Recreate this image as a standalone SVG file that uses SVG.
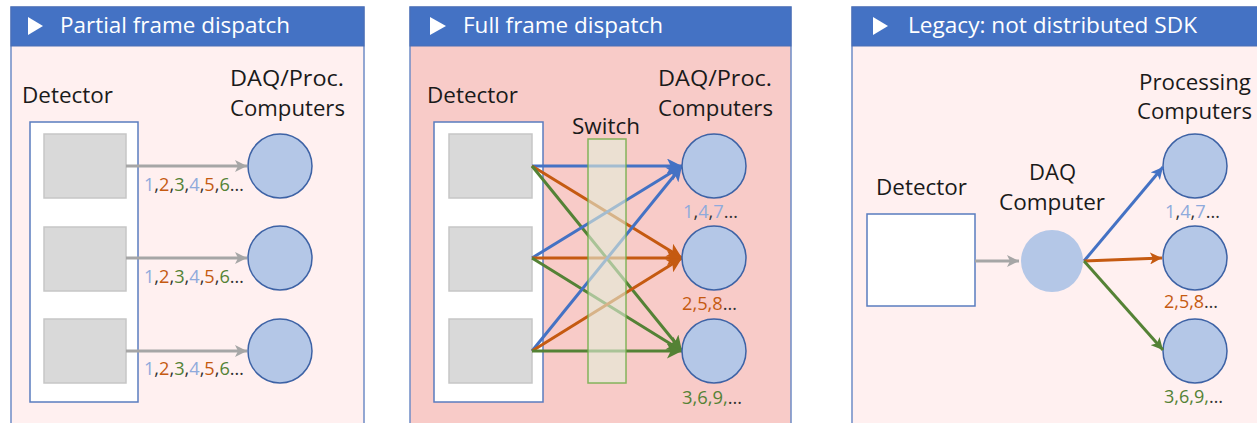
<svg xmlns="http://www.w3.org/2000/svg" width="1257" height="423" viewBox="0 0 1257 423">
<defs>
<style>
text{font-family:"Open Sans","Liberation Sans",sans-serif;}
.title{font-size:21px;fill:#ffffff;}
.lbl{font-size:21px;fill:#1a1a1a;}
.num{font-size:18px;}
.hdr{fill:#4472c4;stroke:#4a6fb5;stroke-width:1;}
.body1{fill:#fff0f0;stroke:#6f8cc6;stroke-width:1.5;}
.body2{fill:#f8cbc8;stroke:#6f8cc6;stroke-width:1.5;}
.det{fill:#ffffff;stroke:#5a7cbf;stroke-width:1.5;}
.sq{fill:#d9d9d9;stroke:#c6c6c6;stroke-width:1.5;}
.pc{fill:#b4c7e7;stroke:#3d62a5;stroke-width:1.5;}
.tri{fill:#ffffff;}
.lb{fill:#8faadc;}
.or{fill:#c55a11;}
.gr{fill:#548235;}
.dk{fill:#333333;}
.gray{stroke:#a6a6a6;stroke-width:3;fill:none;}
.blu{stroke:#4472c4;stroke-width:3;fill:none;}
.org{stroke:#c55a11;stroke-width:3;fill:none;}
.grn{stroke:#548235;stroke-width:3;fill:none;}
</style>
<marker id="mGray" markerUnits="userSpaceOnUse" markerWidth="12" markerHeight="12" refX="10" refY="5" orient="auto" viewBox="0 0 10 10"><path d="M0,0 L10,5 L0,10 L2.5,5 z" fill="#a6a6a6"/></marker>
<marker id="mBlue" markerUnits="userSpaceOnUse" markerWidth="15" markerHeight="15" refX="10" refY="5" orient="auto" viewBox="0 0 10 10"><path d="M0,0 L10,5 L0,10 L2.5,5 z" fill="#4472c4"/></marker>
<marker id="mOrg" markerUnits="userSpaceOnUse" markerWidth="15" markerHeight="15" refX="10" refY="5" orient="auto" viewBox="0 0 10 10"><path d="M0,0 L10,5 L0,10 L2.5,5 z" fill="#c55a11"/></marker>
<marker id="mGrn" markerUnits="userSpaceOnUse" markerWidth="15" markerHeight="15" refX="10" refY="5" orient="auto" viewBox="0 0 10 10"><path d="M0,0 L10,5 L0,10 L2.5,5 z" fill="#548235"/></marker>
<marker id="mBlueS" markerUnits="userSpaceOnUse" markerWidth="12" markerHeight="12" refX="10" refY="5" orient="auto" viewBox="0 0 10 10"><path d="M0,0 L10,5 L0,10 L2.5,5 z" fill="#4472c4"/></marker>
<marker id="mOrgS" markerUnits="userSpaceOnUse" markerWidth="12" markerHeight="12" refX="10" refY="5" orient="auto" viewBox="0 0 10 10"><path d="M0,0 L10,5 L0,10 L2.5,5 z" fill="#c55a11"/></marker>
<marker id="mGrnS" markerUnits="userSpaceOnUse" markerWidth="12" markerHeight="12" refX="10" refY="5" orient="auto" viewBox="0 0 10 10"><path d="M0,0 L10,5 L0,10 L2.5,5 z" fill="#548235"/></marker>
</defs>
<rect width="1257" height="423" fill="#ffffff"/>

<!-- Panel 1 -->
<g id="panel1">
<rect class="body1" x="11" y="7" width="353" height="430"/>
<rect class="hdr" x="11" y="7" width="353" height="39"/>
<path class="tri" d="M28,17 L43,26 L28,35 z"/>
<text class="title" x="60" y="33" textLength="230" lengthAdjust="spacingAndGlyphs">Partial frame dispatch</text>
<text class="lbl" x="22" y="103" textLength="91" lengthAdjust="spacingAndGlyphs">Detector</text>
<text class="lbl" x="230" y="86" textLength="114" lengthAdjust="spacingAndGlyphs">DAQ/Proc.</text>
<text class="lbl" x="230" y="116" textLength="115" lengthAdjust="spacingAndGlyphs">Computers</text>
</g>
<g id="p1-detector">
<rect class="det" x="30" y="122" width="108" height="280"/>
<rect class="sq" x="44" y="134" width="82" height="64"/>
<rect class="sq" x="44" y="227" width="82" height="64"/>
<rect class="sq" x="44" y="319" width="82" height="64"/>
</g>
<g id="p1-computers">
<circle class="pc" cx="280" cy="166" r="32"/>
<circle class="pc" cx="280" cy="258" r="32"/>
<circle class="pc" cx="280" cy="351" r="32"/>
</g>
<g id="p1-connectors">
<line class="gray" x1="126" y1="166" x2="247" y2="166" marker-end="url(#mGray)"/>
<line class="gray" x1="126" y1="258" x2="247" y2="258" marker-end="url(#mGray)"/>
<line class="gray" x1="126" y1="351" x2="247" y2="351" marker-end="url(#mGray)"/>
</g>
<g id="p1-labels" class="num">
<text x="144" y="191" textLength="100" lengthAdjust="spacingAndGlyphs"><tspan class="lb">1</tspan><tspan class="dk">,</tspan><tspan class="or">2</tspan><tspan class="dk">,</tspan><tspan class="gr">3</tspan><tspan class="dk">,</tspan><tspan class="lb">4</tspan><tspan class="dk">,</tspan><tspan class="or">5</tspan><tspan class="dk">,</tspan><tspan class="gr">6</tspan><tspan class="dk">…</tspan></text>
<text x="144" y="283" textLength="100" lengthAdjust="spacingAndGlyphs"><tspan class="lb">1</tspan><tspan class="dk">,</tspan><tspan class="or">2</tspan><tspan class="dk">,</tspan><tspan class="gr">3</tspan><tspan class="dk">,</tspan><tspan class="lb">4</tspan><tspan class="dk">,</tspan><tspan class="or">5</tspan><tspan class="dk">,</tspan><tspan class="gr">6</tspan><tspan class="dk">…</tspan></text>
<text x="144" y="375" textLength="100" lengthAdjust="spacingAndGlyphs"><tspan class="lb">1</tspan><tspan class="dk">,</tspan><tspan class="or">2</tspan><tspan class="dk">,</tspan><tspan class="gr">3</tspan><tspan class="dk">,</tspan><tspan class="lb">4</tspan><tspan class="dk">,</tspan><tspan class="or">5</tspan><tspan class="dk">,</tspan><tspan class="gr">6</tspan><tspan class="dk">…</tspan></text>
</g>

<!-- Panel 2 -->
<g id="panel2">
<rect class="body2" x="410" y="7" width="381" height="430"/>
<rect class="hdr" x="410" y="7" width="381" height="39"/>
<path class="tri" d="M430,17 L446,26 L430,35 z"/>
<text class="title" x="463" y="33" textLength="200" lengthAdjust="spacingAndGlyphs">Full frame dispatch</text>
<text class="lbl" x="427" y="103" textLength="91" lengthAdjust="spacingAndGlyphs">Detector</text>
<text class="lbl" x="658" y="86" textLength="114" lengthAdjust="spacingAndGlyphs">DAQ/Proc.</text>
<text class="lbl" x="658" y="116" textLength="115" lengthAdjust="spacingAndGlyphs">Computers</text>
<text class="lbl" x="572" y="134" textLength="68" lengthAdjust="spacingAndGlyphs">Switch</text>
</g>
<g id="p2-detector">
<rect class="det" x="434" y="122" width="109" height="280"/>
<rect class="sq" x="449" y="134" width="83" height="64"/>
<rect class="sq" x="449" y="227" width="83" height="64"/>
<rect class="sq" x="449" y="319" width="83" height="64"/>
</g>
<g id="p2-connectors">
<line class="blu" x1="532" y1="166" x2="682" y2="166" marker-end="url(#mBlue)"/>
<line class="org" x1="532" y1="166" x2="682" y2="258" marker-end="url(#mOrg)"/>
<line class="grn" x1="532" y1="166" x2="682" y2="351" marker-end="url(#mGrn)"/>
<line class="blu" x1="532" y1="258" x2="682" y2="166" marker-end="url(#mBlue)"/>
<line class="org" x1="532" y1="258" x2="682" y2="258" marker-end="url(#mOrg)"/>
<line class="grn" x1="532" y1="258" x2="682" y2="351" marker-end="url(#mGrn)"/>
<line class="blu" x1="532" y1="351" x2="682" y2="166" marker-end="url(#mBlue)"/>
<line class="org" x1="532" y1="351" x2="682" y2="258" marker-end="url(#mOrg)"/>
<line class="grn" x1="532" y1="351" x2="682" y2="351" marker-end="url(#mGrn)"/>
</g>
<g id="p2-switch">
<rect x="588" y="139" width="38" height="244" fill="#e2efd9" fill-opacity="0.6" stroke="#70ad47" stroke-opacity="0.85" stroke-width="1.5"/>
</g>
<g id="p2-computers">
<circle class="pc" cx="714" cy="166" r="32"/>
<circle class="pc" cx="714" cy="258" r="32"/>
<circle class="pc" cx="714" cy="351" r="32"/>
</g>
<g id="p2-labels" class="num">
<text x="683" y="218" textLength="55" lengthAdjust="spacingAndGlyphs"><tspan class="lb">1</tspan><tspan class="dk">,</tspan><tspan class="lb">4</tspan><tspan class="dk">,</tspan><tspan class="lb">7</tspan><tspan class="dk">…</tspan></text>
<text x="682" y="310" textLength="55" lengthAdjust="spacingAndGlyphs"><tspan class="or">2,5,8</tspan><tspan class="dk">…</tspan></text>
<text x="682" y="404" textLength="60" lengthAdjust="spacingAndGlyphs"><tspan class="gr">3,6,9,</tspan><tspan class="dk">…</tspan></text>
</g>

<!-- Panel 3 -->
<g id="panel3">
<rect class="body1" x="852" y="7" width="420" height="430"/>
<rect class="hdr" x="852" y="7" width="420" height="39"/>
<path class="tri" d="M873,17 L888,26 L873,35 z"/>
<text class="title" x="908" y="33" textLength="289" lengthAdjust="spacingAndGlyphs">Legacy: not distributed SDK</text>
<text class="lbl" x="1139" y="90" textLength="112" lengthAdjust="spacingAndGlyphs">Processing</text>
<text class="lbl" x="1137" y="119" textLength="115" lengthAdjust="spacingAndGlyphs">Computers</text>
</g>
<g id="p3-detector">
<text class="lbl" x="876" y="195" textLength="91" lengthAdjust="spacingAndGlyphs">Detector</text>
<rect class="det" x="867" y="214" width="108" height="92"/>
</g>
<g id="p3-daq">
<text class="lbl" x="1029" y="180" textLength="47" lengthAdjust="spacingAndGlyphs">DAQ</text>
<text class="lbl" x="999" y="210" textLength="106" lengthAdjust="spacingAndGlyphs">Computer</text>
<circle cx="1052" cy="261" r="31" fill="#b4c7e7"/>
</g>
<g id="p3-computers">
<circle class="pc" cx="1195" cy="166" r="32"/>
<circle class="pc" cx="1195" cy="258" r="32"/>
<circle class="pc" cx="1195" cy="351" r="32"/>
</g>
<g id="p3-connectors">
<line class="gray" x1="975" y1="261" x2="1019" y2="261" marker-end="url(#mGray)"/>
<line class="blu" x1="1084" y1="261" x2="1163" y2="167" marker-end="url(#mBlueS)"/>
<line class="org" x1="1084" y1="261" x2="1162" y2="258" marker-end="url(#mOrgS)"/>
<line class="grn" x1="1084" y1="261" x2="1163" y2="350" marker-end="url(#mGrnS)"/>
</g>
<g id="p3-labels" class="num">
<text x="1165" y="218" textLength="55" lengthAdjust="spacingAndGlyphs"><tspan class="lb">1</tspan><tspan class="dk">,</tspan><tspan class="lb">4</tspan><tspan class="dk">,</tspan><tspan class="lb">7</tspan><tspan class="dk">…</tspan></text>
<text x="1164" y="308" textLength="54" lengthAdjust="spacingAndGlyphs"><tspan class="or">2,5,8</tspan><tspan class="dk">…</tspan></text>
<text x="1164" y="403" textLength="59" lengthAdjust="spacingAndGlyphs"><tspan class="gr">3,6,9,</tspan><tspan class="dk">…</tspan></text>
</g>
</svg>
